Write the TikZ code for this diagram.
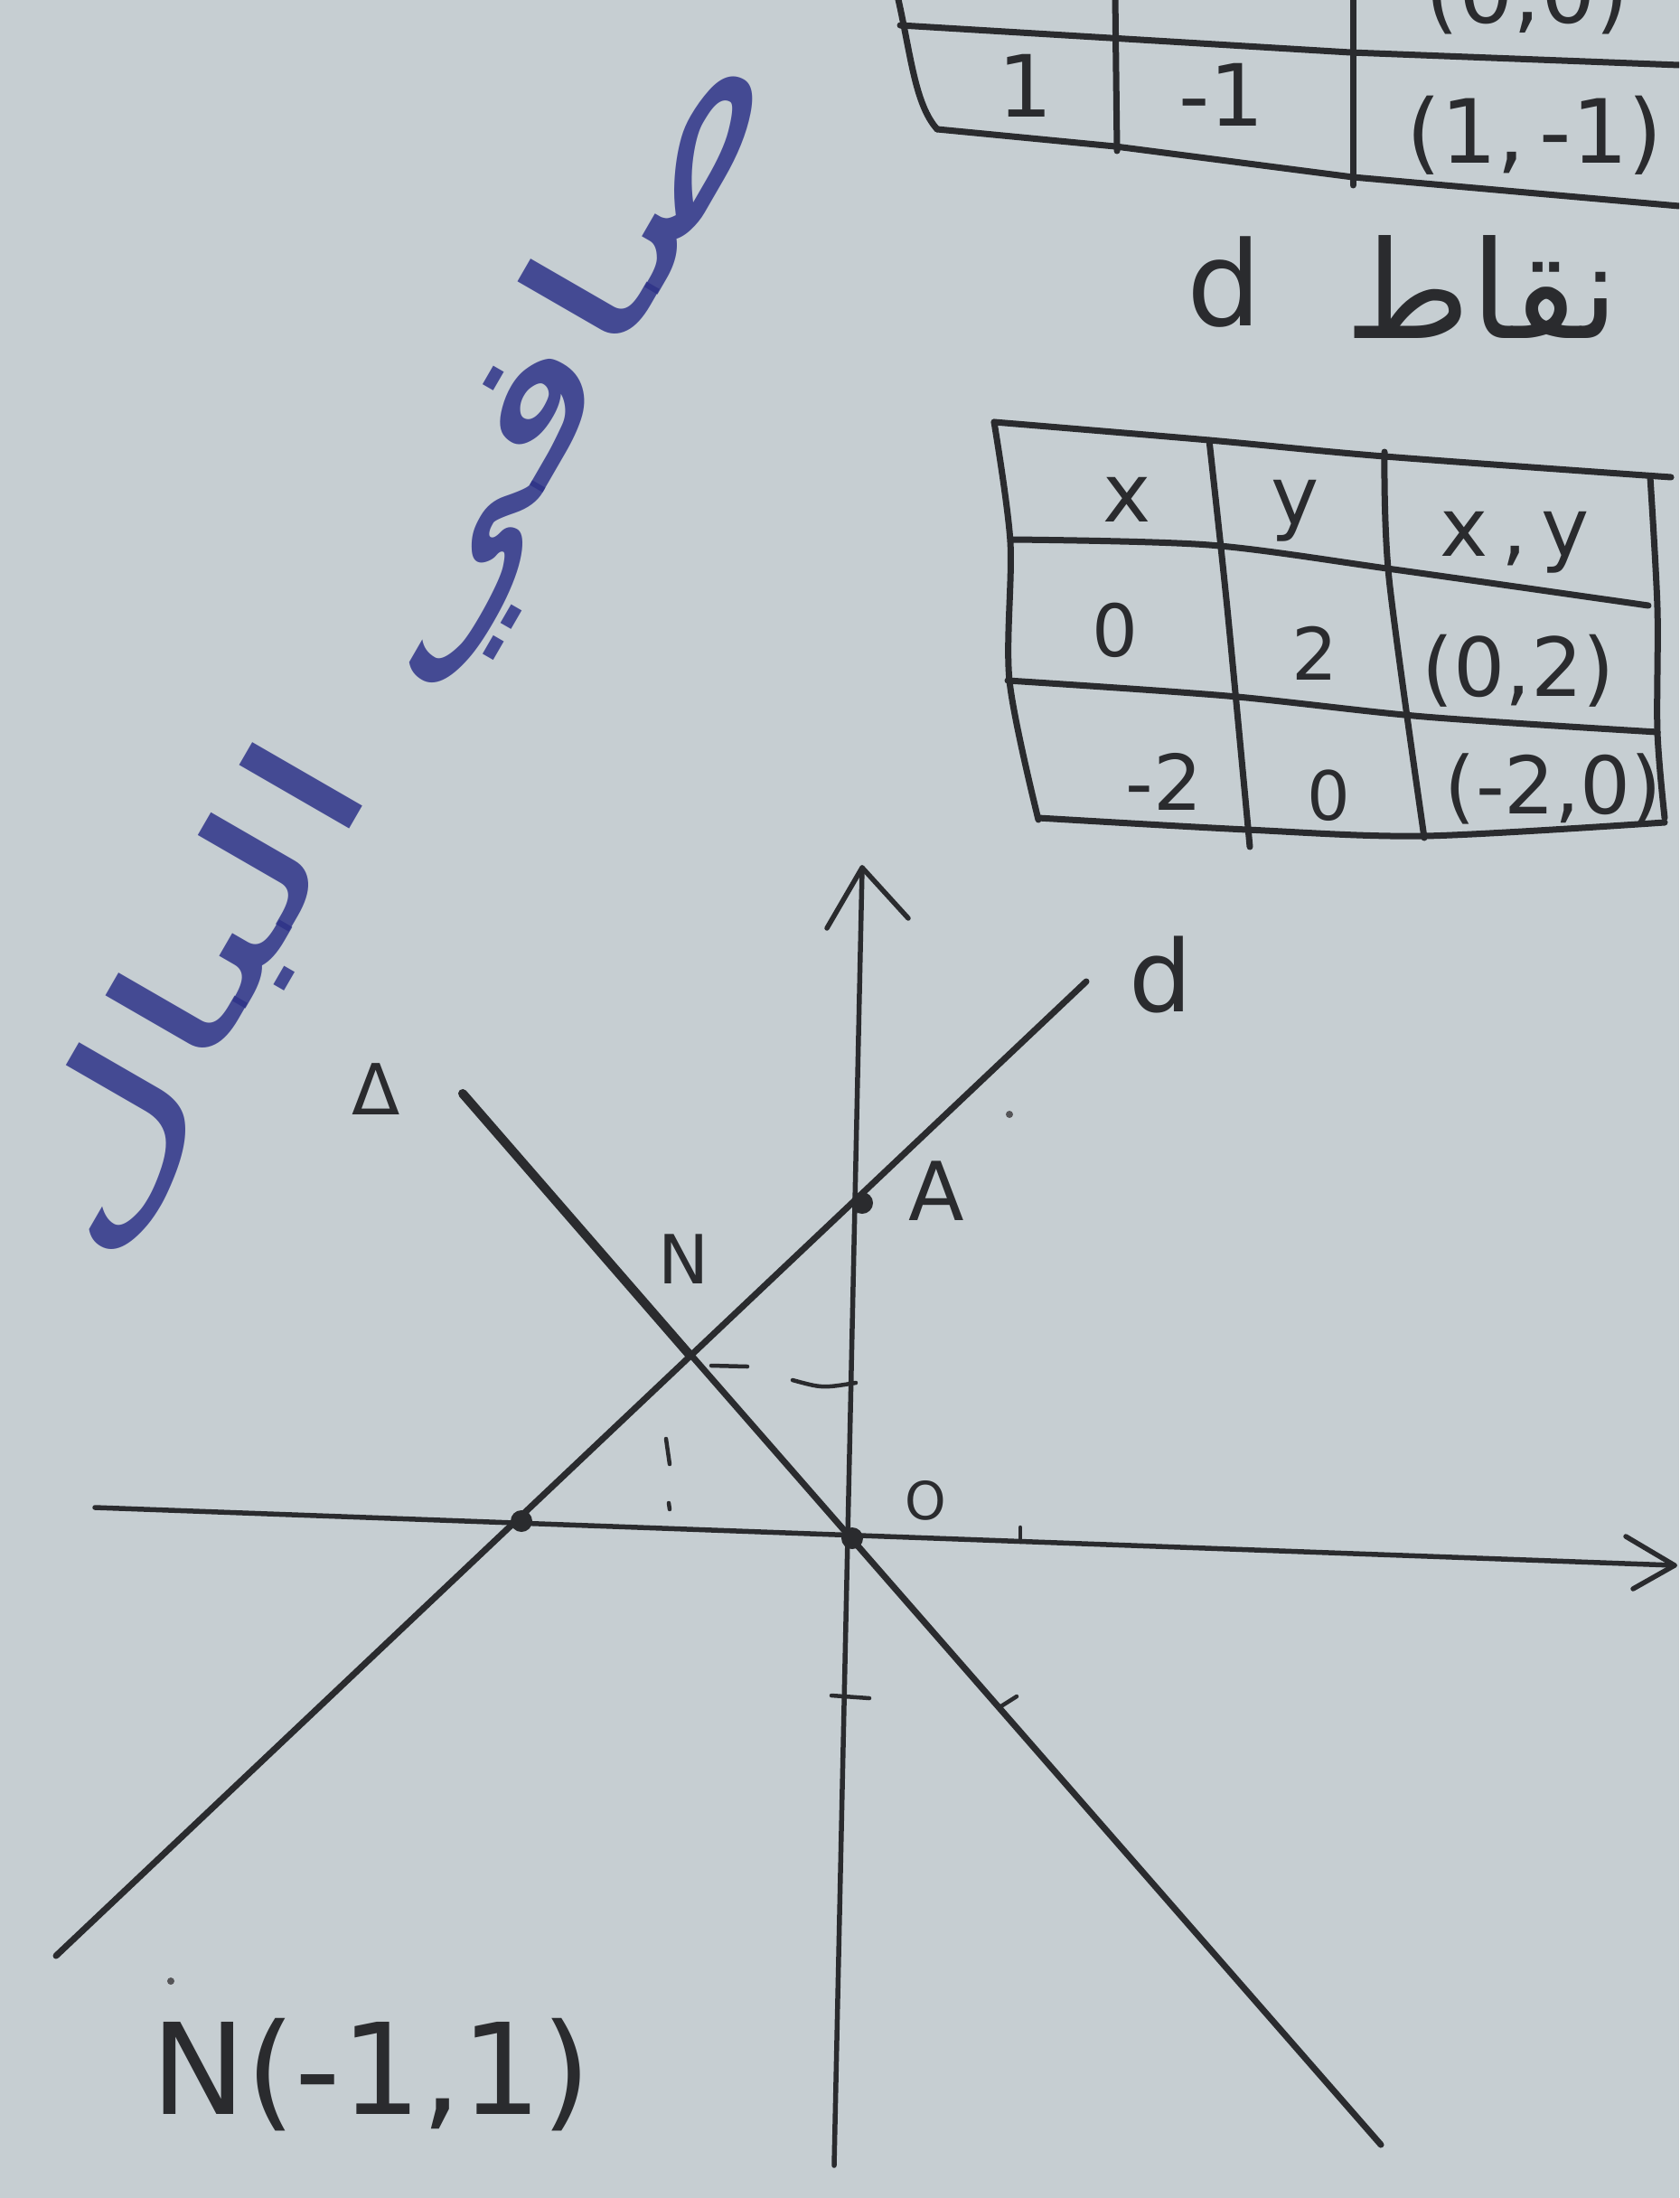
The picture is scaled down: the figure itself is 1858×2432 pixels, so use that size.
\documentclass[tikz,border=0pt]{standalone}
\usepackage{fontspec}
\setmainfont{DejaVu Sans}
\newfontfamily\arabicfont[Script=Arabic]{DejaVu Sans}
\TeXXeTstate=1
\definecolor{paper}{HTML}{C6CED2}
\definecolor{ink}{HTML}{2A2B2E}
\definecolor{blueink}{HTML}{2E3388}
\newcommand\hfs[1]{\fontsize{#1}{#1}\selectfont}
\tikzset{
  pen/.style={draw=ink, line width=7pt, line cap=round, line join=round},
  axis/.style={draw=ink, line width=5.5pt, line cap=round, line join=round},
  thinpen/.style={draw=ink, line width=4.5pt, line cap=round},
  handtxt/.style={text=ink, inner sep=0pt},
  dotmark/.style={circle, fill=ink, inner sep=0pt, minimum size=24pt},
  stray/.style={circle, fill=ink!80, inner sep=0pt, minimum size=8pt},
}
\begin{document}
\begin{tikzpicture}[x=1pt,y=-1pt]
\fill[paper] (0,0) rectangle (1858,2432);
\useasboundingbox (0,0) rectangle (1858,2432);
\clip (0,0) rectangle (1858,2432);

% ---------- top table (points of Delta), partly cut off ----------
\draw[pen] (993,-5) .. controls (1008,60) and (1012,115) .. (1037,143);
\draw[pen] (996,28) -- (1494,58) -- (1858,72);
\draw[pen] (1037,143) -- (1234,162) -- (1497,196) -- (1858,228);
\draw[pen] (1234,-5) -- (1236,167);
\draw[pen] (1497,-5) -- (1497,205);
\node[handtxt, anchor=base] (t0) at (1690,26) {\hfs{95}(0,0)};
\node[handtxt] (t1) at (1135,95) {\hfs{95}1};
\node[handtxt] (t2) at (1352,105) {\hfs{95}-1};
\node[handtxt] (t3) at (1698,150) {\hfs{98}(1,\,-1)};

% ---------- caption ----------
\node[handtxt] (cd) at (1355,312) {\hfs{130}d};
\node[handtxt] (cn) at (1640,318) {\hfs{150}\arabicfont\beginR نقاط\endR};

% ---------- second table (points of d) ----------
\draw[pen] plot[smooth] coordinates {(1100,467) (1338,487) (1532,505) (1849,528)};
\draw[pen] plot[smooth] coordinates {(1120,597) (1338,603) (1542,630) (1824,670)};
\draw[pen] plot[smooth] coordinates {(1115,753) (1358,770) (1576,793) (1834,810)};
\draw[pen] plot[smooth] coordinates {(1149,905) (1380,918) (1576,925) (1842,910)};
\draw[pen] plot[smooth] coordinates {(1100,467) (1118,600) (1117,753) (1149,907)};
\draw[pen] plot[smooth] coordinates {(1338,487) (1358,673) (1383,937)};
\draw[pen] plot[smooth] coordinates {(1532,500) (1537,640) (1576,927)};
\draw[pen] plot[smooth] coordinates {(1826,528) (1834,673) (1834,810) (1842,905)};
\node[handtxt] (hx) at (1247,553) {\hfs{90}x};
\node[handtxt] (hy) at (1433,565) {\hfs{90}y};
\node[handtxt] (hxy) at (1676,600) {\hfs{90}x\,,\,y};
\node[handtxt] (r1a) at (1234,697) {\hfs{80}0};
\node[handtxt] (r1b) at (1455,723) {\hfs{80}2};
\node[handtxt] (r1c) at (1680,742) {\hfs{90}(0,2)};
\node[handtxt] (r2a) at (1288,865) {\hfs{85}-2};
\node[handtxt] (r2b) at (1470,880) {\hfs{75}0};
\node[handtxt] (r2c) at (1719,873) {\hfs{88}(-2,0)};

% ---------- blue handwritten note ----------
\node[text=blueink, text opacity=0.85, inner sep=0pt, rotate=60] (note) at (445,720)
  {\scalebox{1.75}[1]{\hfs{185}\arabicfont\beginR صافي البال\endR}};

% ---------- graph ----------
\coordinate (xl) at (105,1668);
\coordinate (xr) at (1853,1732);
\coordinate (yt) at (954,960);
\coordinate (yb) at (923,2396);
\coordinate (dA) at (62,2164);
\coordinate (dB) at (1202,1086);
\coordinate (DA) at (512,1210);
\coordinate (DB) at (1528,2373);
\coordinate (N) at (763,1499);
\coordinate (xa1) at (1799,1700);
\coordinate (xa2) at (1807,1758);
\coordinate (ya1) at (915,1027);
\coordinate (ya2) at (1005,1016);

\draw[axis] (xl) -- (xr);
\draw[axis] (xa1) -- (xr) -- (xa2);
\draw[axis] (yb) -- (yt);
\draw[axis] (ya1) -- (yt) -- (ya2);
\draw[pen] (dA) -- (dB);
\draw[pen] (DA) -- (DB);
\draw[pen, line width=10pt] (DA) -- (N);

\node[dotmark] (P) at (577,1683) {};
\node[dotmark] (A) at (954,1331) {};
\node[dotmark] (O) at (943,1702) {};

% projection marks and ticks
\coordinate (m1a) at (787,1511); \coordinate (m1b) at (827,1512);
\coordinate (m2a) at (877,1527); \coordinate (m2b) at (947,1530);
\draw[thinpen] (m1a) -- (m1b);
\draw[thinpen] (m2a) .. controls (910,1536) .. (m2b);
\coordinate (v1a) at (737,1592); \coordinate (v1b) at (741,1620);
\coordinate (v2a) at (740,1663); \coordinate (v2b) at (741,1670);
\draw[thinpen] (v1a) -- (v1b);
\draw[thinpen] (v2a) -- (v2b);
\coordinate (tx1a) at (1129,1690); \coordinate (tx1b) at (1129,1706);
\draw[thinpen] (tx1a) -- (tx1b);
\coordinate (ty1a) at (920,1876); \coordinate (ty1b) at (962,1879);
\draw[thinpen] (ty1a) -- (ty1b);
\coordinate (td1a) at (1106,1889); \coordinate (td1b) at (1125,1877);
\draw[thinpen] (td1a) -- (td1b);

\node[stray] (s1) at (1117,1233) {};
\node[stray] (s2) at (189,2192) {};

% labels
\node[handtxt] (dlab) at (1284,1078) {\hfs{110}d};
\node[handtxt] (Alab) at (1036,1318) {\hfs{90}A};
\node[handtxt] (Dlab) at (416,1205) {\hfs{78}Δ};
\node[handtxt] (Nlab) at (757,1393) {\hfs{75}N};
\node[handtxt] (Olab) at (1024,1660) {\hfs{58}O};
\node[handtxt] (Nres) at (411,2296) {\hfs{140}N(-1,1)};
\end{tikzpicture}
\end{document}
